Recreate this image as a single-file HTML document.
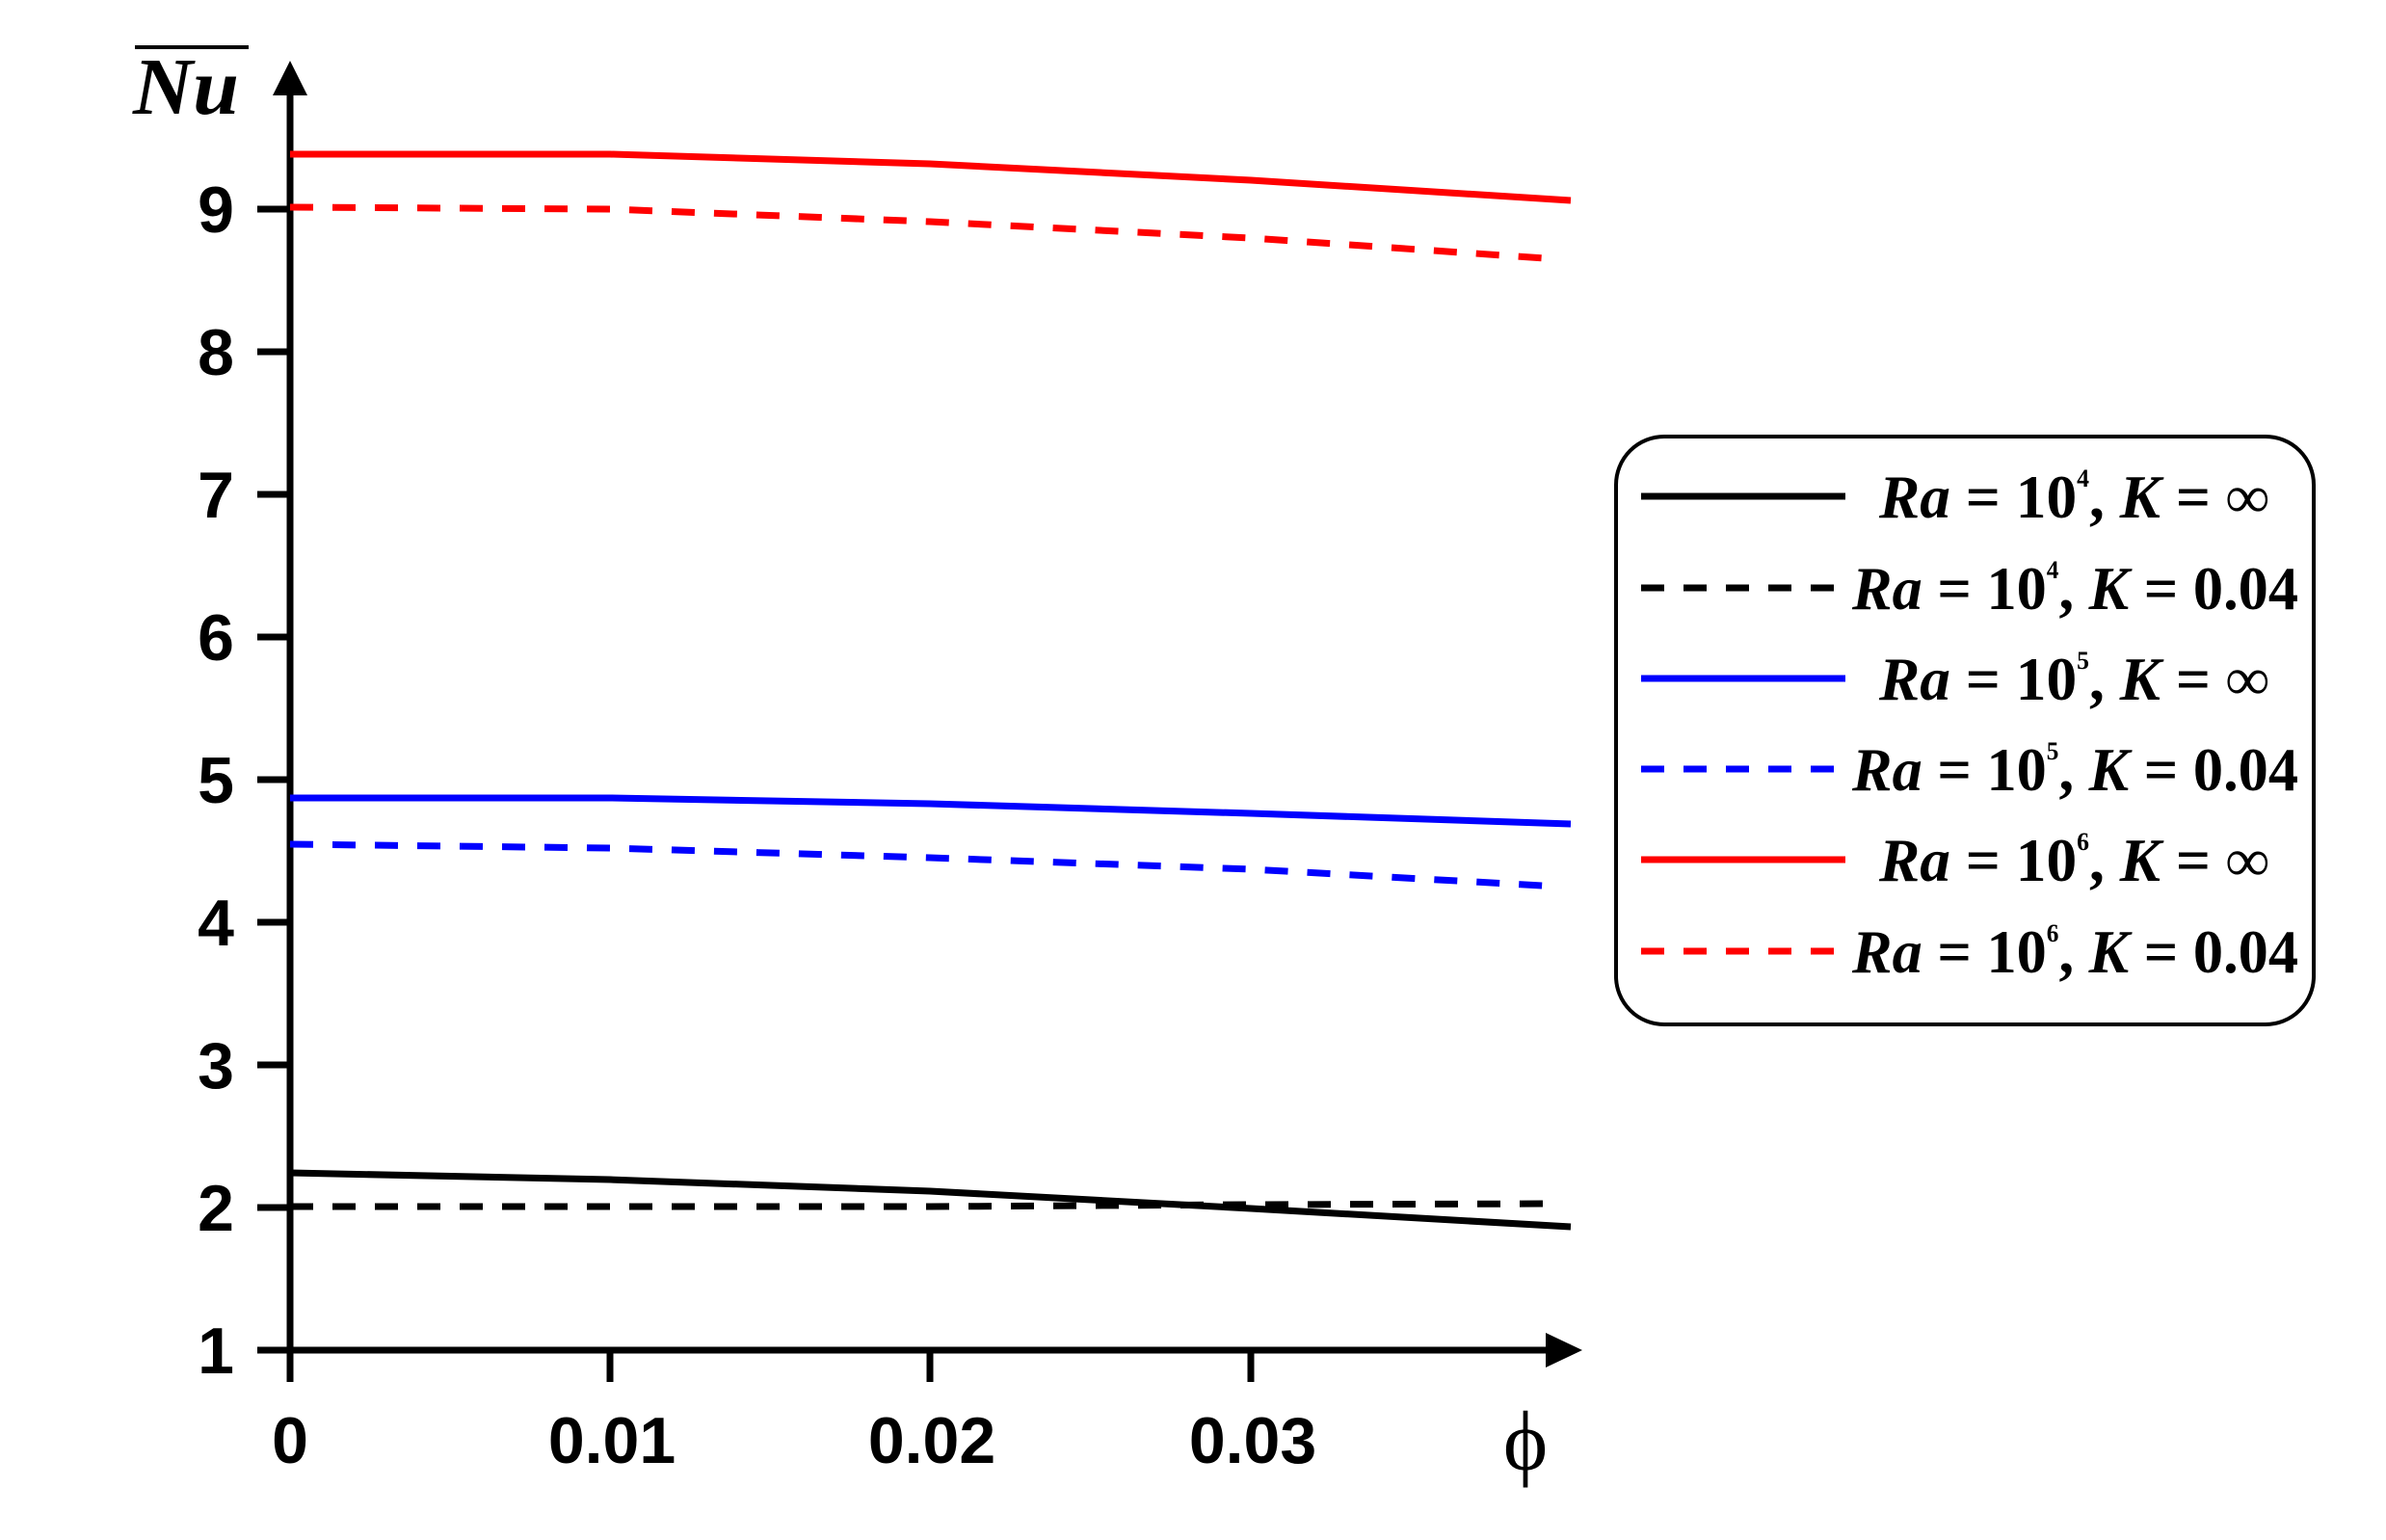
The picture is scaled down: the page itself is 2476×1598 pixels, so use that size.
<!DOCTYPE html>
<html><head><style>body{margin:0;background:#fff}</style></head><body>
<svg width="2476" height="1593" viewBox="0 0 2476 1593" xmlns="http://www.w3.org/2000/svg">
<rect width="2476" height="1593" fill="#fff"/>
<g stroke="#000" stroke-width="7" fill="none">
<line x1="301" y1="1401" x2="301" y2="95"/>
<line x1="301" y1="1401" x2="1605" y2="1401"/>
<line x1="267" y1="1401" x2="301" y2="1401"/>
<line x1="267" y1="1253" x2="301" y2="1253"/>
<line x1="267" y1="1105" x2="301" y2="1105"/>
<line x1="267" y1="957" x2="301" y2="957"/>
<line x1="267" y1="809" x2="301" y2="809"/>
<line x1="267" y1="661" x2="301" y2="661"/>
<line x1="267" y1="513" x2="301" y2="513"/>
<line x1="267" y1="365" x2="301" y2="365"/>
<line x1="267" y1="217" x2="301" y2="217"/>
<line x1="301" y1="1401" x2="301" y2="1434"/>
<line x1="633" y1="1401" x2="633" y2="1434"/>
<line x1="965" y1="1401" x2="965" y2="1434"/>
<line x1="1298" y1="1401" x2="1298" y2="1434"/>
</g>
<polygon points="301,63 283,99 319,99" fill="#000"/>
<polygon points="1642,1401 1604,1383 1604,1419" fill="#000"/>
<g font-family="Liberation Sans, sans-serif" font-weight="bold" font-size="68" fill="#000" text-anchor="end">
<text x="243" y="1425">1</text><text x="243" y="1277">2</text><text x="243" y="1129">3</text>
<text x="243" y="981">4</text><text x="243" y="833">5</text><text x="243" y="685">6</text>
<text x="243" y="537">7</text><text x="243" y="389">8</text><text x="243" y="241">9</text>
</g>
<g font-family="Liberation Sans, sans-serif" font-weight="bold" font-size="68" fill="#000" text-anchor="middle">
<text x="301" y="1518">0</text><text x="635" y="1518">0.01</text><text x="967" y="1518">0.02</text><text x="1300" y="1518">0.03</text>
</g>
<text x="1583" y="1525" font-family="Liberation Serif, serif" font-size="88" text-anchor="middle">ϕ</text>
<text x="138" y="118" font-family="Liberation Serif, serif" font-weight="bold" font-style="italic" font-size="84" textLength="110" lengthAdjust="spacingAndGlyphs">Nu</text>
<line x1="140" y1="49" x2="258" y2="49" stroke="#000" stroke-width="4"/>
<g fill="none" stroke-width="7">
<polyline stroke="#ff0000" points="301,160 633,160 965,170 1298,187 1630,208"/>
<polyline stroke="#ff0000" stroke-dasharray="24 20" points="301,215 633,217 965,230 1298,247 1618,269"/>
<polyline stroke="#0000ff" points="301,828 633,828 965,834 1298,844 1630,855"/>
<polyline stroke="#0000ff" stroke-dasharray="24 20" points="301,876 633,880 965,890 1298,902 1618,920"/>
<polyline stroke="#000" points="301,1217 633,1224 965,1236 1298,1254 1630,1273"/>
<polyline stroke="#000" stroke-dasharray="24 20" points="301,1252 633,1252 965,1252 1298,1250 1618,1249"/>
</g>
<rect x="1677" y="453" width="724" height="610" rx="50" ry="50" fill="none" stroke="#000" stroke-width="4"/>
<g stroke-width="7">
<line x1="1703" y1="515" x2="1915" y2="515" stroke="#000"/>
<line x1="1703" y1="610" x2="1905" y2="610" stroke="#000" stroke-dasharray="24 20"/>
<line x1="1703" y1="704" x2="1915" y2="704" stroke="#0000ff"/>
<line x1="1703" y1="798" x2="1905" y2="798" stroke="#0000ff" stroke-dasharray="24 20"/>
<line x1="1703" y1="892" x2="1915" y2="892" stroke="#ff0000"/>
<line x1="1703" y1="987" x2="1905" y2="987" stroke="#ff0000" stroke-dasharray="24 20"/>
</g>
<g font-family="Liberation Serif, serif" font-weight="bold" font-size="64" fill="#000">
<text x="1950" y="537" textLength="405" lengthAdjust="spacingAndGlyphs"><tspan font-style="italic">Ra</tspan> = 10<tspan font-size="26" dy="-32">4</tspan><tspan dy="32">, </tspan><tspan font-style="italic">K</tspan> = ∞</text>
<text x="1922" y="632" textLength="463" lengthAdjust="spacingAndGlyphs"><tspan font-style="italic">Ra</tspan> = 10<tspan font-size="26" dy="-32">4</tspan><tspan dy="32">, </tspan><tspan font-style="italic">K</tspan> = 0.04</text>
<text x="1950" y="726" textLength="405" lengthAdjust="spacingAndGlyphs"><tspan font-style="italic">Ra</tspan> = 10<tspan font-size="26" dy="-32">5</tspan><tspan dy="32">, </tspan><tspan font-style="italic">K</tspan> = ∞</text>
<text x="1922" y="820" textLength="463" lengthAdjust="spacingAndGlyphs"><tspan font-style="italic">Ra</tspan> = 10<tspan font-size="26" dy="-32">5</tspan><tspan dy="32">, </tspan><tspan font-style="italic">K</tspan> = 0.04</text>
<text x="1950" y="914" textLength="405" lengthAdjust="spacingAndGlyphs"><tspan font-style="italic">Ra</tspan> = 10<tspan font-size="26" dy="-32">6</tspan><tspan dy="32">, </tspan><tspan font-style="italic">K</tspan> = ∞</text>
<text x="1922" y="1009" textLength="463" lengthAdjust="spacingAndGlyphs"><tspan font-style="italic">Ra</tspan> = 10<tspan font-size="26" dy="-32">6</tspan><tspan dy="32">, </tspan><tspan font-style="italic">K</tspan> = 0.04</text>
</g>
</svg>
</body></html>
